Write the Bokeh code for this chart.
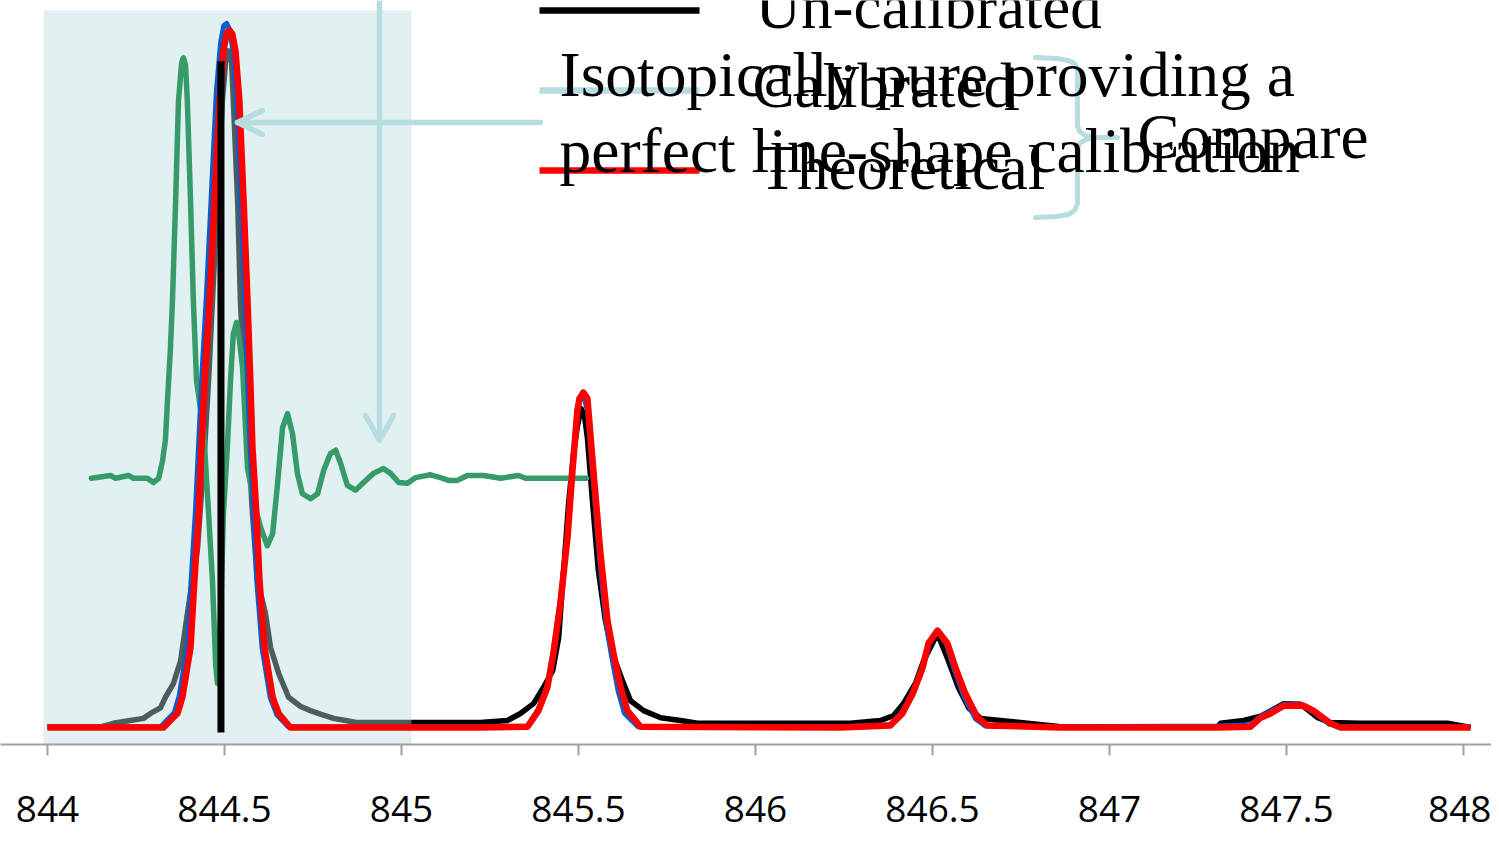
from bokeh.plotting import figure
from bokeh.models import Range1d, FixedTicker, CustomJSTickFormatter
from bokeh.core.properties import value
from bokeh.embed import file_html
from bokeh.resources import INLINE

# ---------------- data ----------------
tick_vals = [844, 844.5, 845, 845.5, 846, 846.5, 847, 847.5, 848]
tick_labels = ["844", "844.5", "845", "845.5", "846", "846.5", "847", "847.5", "848"]

# Un-calibrated spectrum (black)
uncal_x = [844.000, 844.150, 844.186, 844.234, 844.271, 844.291, 844.319, 844.333, 844.356, 844.376,
           844.395, 844.424, 844.444, 844.455, 844.466, 844.480, 844.494, 844.503, 844.511, 844.520,
           844.525, 844.537, 844.545, 844.556, 844.568, 844.579, 844.593, 844.616, 844.630, 844.653,
           844.681, 844.715, 844.743, 844.771, 844.808, 844.842, 844.876, 844.941,
           845.223, 845.299, 845.336, 845.373, 845.401, 845.427, 845.444, 845.458, 845.472, 845.486,
           845.497, 845.508, 845.517, 845.525, 845.540, 845.556, 845.576, 845.596, 845.624, 845.647,
           845.684, 845.732, 845.788, 845.836,
           846.268, 846.353, 846.390, 846.418, 846.452, 846.475, 846.514, 846.545, 846.573, 846.602,
           846.636, 846.692, 846.768, 846.862,
           847.305, 847.314, 847.379, 847.427, 847.492, 847.540, 847.588, 847.624, 847.709, 847.955, 848.020]
uncal_y = [0.1, 0.1, 0.6, 1.0, 1.3, 2.0, 2.8, 4.3, 6.3, 9.5,
           16.2, 25.6, 39.9, 49.4, 60.8, 75.1, 89.3, 94.7, 96.4, 94.7,
           89.3, 75.1, 60.8, 49.4, 39.9, 30.5, 20.9, 16.2, 11.4, 7.7,
           4.3, 3.0, 2.4, 1.9, 1.3, 1.0, 0.7, 0.7,
           0.7, 1.0, 2.0, 3.4, 5.7, 8.1, 12.8, 22.4, 31.9, 39.0,
           43.0, 45.4, 44.4, 41.3, 31.9, 22.4, 15.2, 10.5, 6.7, 3.8,
           2.4, 1.4, 1.0, 0.6,
           0.6, 1.0, 1.7, 3.4, 6.3, 9.5, 13.4, 9.5, 5.7, 2.8,
           1.3, 1.0, 0.6, 0.1,
           0.1, 0.6, 1.0, 1.6, 3.4, 3.3, 1.4, 0.7, 0.6, 0.6, 0.0]

# Calibrated spectrum (blue)
cal_x = [844.000, 844.320, 844.331, 844.358, 844.372, 844.395, 844.406, 844.418, 844.427, 844.436,
         844.449, 844.463, 844.477, 844.489, 844.498, 844.506, 844.514, 844.523, 844.534, 844.546,
         844.557, 844.565, 844.572, 844.582, 844.591, 844.606, 844.629, 844.648, 844.680,
         845.223, 845.356, 845.386, 845.411, 845.428, 845.448, 845.468, 845.482, 845.496, 845.512,
         845.526, 845.540, 845.559, 845.578, 845.594, 845.612, 845.630, 845.668,
         846.240, 846.381, 846.414, 846.443, 846.471, 846.488, 846.513, 846.540, 846.562, 846.589,
         846.622, 846.650, 846.862,
         847.305, 847.398, 847.427, 847.455, 847.492, 847.545, 847.574, 847.620, 847.653, 848.020]
cal_y = [0.1, 0.1, 0.7, 2.1, 4.5, 11.6, 21.2, 31.0, 40.5, 50.1,
         61.7, 76.2, 90.6, 97.6, 100.0, 100.3, 99.5, 96.8, 89.6, 75.4,
         61.0, 49.6, 40.1, 30.6, 21.0, 11.4, 4.3, 1.8, 0.1,
         0.1, 0.2, 2.6, 5.9, 10.7, 17.9, 27.3, 36.8, 45.3, 47.8,
         45.0, 36.2, 24.3, 14.8, 10.0, 5.2, 2.0, 0.1,
         0.1, 0.4, 2.2, 5.0, 8.6, 12.1, 13.8, 11.8, 8.2, 4.4,
         1.2, 0.2, 0.1,
         0.2, 0.4, 1.6, 2.3, 3.3, 3.2, 2.3, 0.5, 0.1, 0.1]

# Theoretical spectrum (red)
theo_x = [844.000, 844.328, 844.339, 844.367, 844.381, 844.404, 844.415, 844.427, 844.435, 844.444,
          844.458, 844.472, 844.486, 844.497, 844.506, 844.514, 844.522, 844.531, 844.542, 844.554,
          844.565, 844.573, 844.579, 844.590, 844.599, 844.613, 844.636, 844.653, 844.686,
          845.223, 845.356, 845.387, 845.412, 845.429, 845.449, 845.469, 845.483, 845.497, 845.503,
          845.514, 845.525, 845.528, 845.542, 845.562, 845.582, 845.599, 845.619, 845.638, 845.675,
          846.240, 846.381, 846.415, 846.444, 846.472, 846.489, 846.514, 846.542, 846.565, 846.593,
          846.627, 846.655, 846.862,
          847.305, 847.398, 847.427, 847.455, 847.492, 847.548, 847.576, 847.624, 847.653, 848.020]
theo_y = [0.0, 0.0, 0.6, 2.0, 4.3, 11.4, 20.9, 30.5, 39.9, 49.4,
          60.8, 75.1, 89.3, 96.4, 98.8, 99.3, 98.8, 96.4, 89.3, 75.1,
          60.8, 49.4, 39.9, 30.5, 20.9, 11.4, 4.3, 2.0, 0.0,
          0.0, 0.1, 2.4, 5.7, 10.5, 17.7, 27.1, 36.6, 45.2, 46.9,
          47.7, 46.9, 45.2, 36.6, 24.8, 15.2, 10.5, 5.7, 2.4, 0.1,
          0.0, 0.3, 2.0, 4.8, 8.5, 12.0, 13.8, 12.0, 8.5, 4.8,
          1.4, 0.3, 0.0,
          0.0, 0.1, 1.4, 2.0, 3.1, 3.1, 2.4, 0.6, 0.0, 0.0]

# Line-shape calibration (green), offset trace
shape_x = [844.124, 844.178, 844.192, 844.229, 844.243, 844.282, 844.299, 844.314, 844.325, 844.333,
           844.339, 844.347, 844.353, 844.362, 844.370, 844.379, 844.384, 844.390, 844.395, 844.404,
           844.412, 844.421, 844.441, 844.455, 844.466, 844.475, 844.480, 844.489, 844.497, 844.508,
           844.517, 844.525, 844.534, 844.540, 844.551, 844.565, 844.582, 844.602, 844.621, 844.636,
           844.650, 844.664, 844.678, 844.692, 844.706, 844.720, 844.743, 844.763, 844.780, 844.799,
           844.814, 844.828, 844.847, 844.870, 844.893, 844.921, 844.949, 844.969, 844.992, 845.017,
           845.040, 845.082, 845.110, 845.133, 845.158, 845.186, 845.232, 845.280, 845.331, 845.350,
           845.523]
shape_y = [35.5, 35.9, 35.5, 35.9, 35.5, 35.5, 34.9, 35.5, 38.0, 40.9,
           46.6, 53.7, 60.8, 75.1, 89.3, 94.7, 95.4, 94.3, 89.3, 75.1,
           60.8, 49.4, 42.3, 30.5, 20.9, 9.1, 6.3, 16.2, 30.5, 39.9,
           49.4, 56.1, 57.7, 56.1, 51.3, 37.0, 32.3, 28.5, 25.9, 27.6,
           34.8, 42.7, 44.7, 41.9, 36.2, 33.3, 32.6, 33.3, 36.6, 39.0,
           39.5, 37.6, 34.5, 33.8, 34.9, 36.2, 36.9, 36.2, 34.9, 34.8,
           35.6, 36.0, 35.6, 35.2, 35.2, 35.9, 35.9, 35.5, 35.9, 35.5,
           35.5]

# Isotopically pure reference line (stick)
stick_x = [844.49]
stick_y0 = [-0.7]
stick_y1 = [94.9]

legend_labels = ["Un-calibrated", "Calibrated", "Theoretical"]
note_lines = ["Isotopically pure providing a", "perfect line-shape calibration"]
compare_label = "Compare"

# ---------------- layout helpers (picture pixel -> data) ----------------
def dx(px):
    return 844 + (px - 47) / 354.0

def dy(py):
    return (727 - py) / 7.02

TEXT_SHIFT = 23  # rendered text sits this many px below the given anchor

def ty(py):
    return dy(py - TEXT_SHIFT)

LIGHT = "#b7dde0"
W, H = 1491, 835
FRAME_BOTTOM = 744

p = figure(width=W, height=H, output_backend="svg", toolbar_location=None,
           x_range=Range1d(dx(0), dx(W)), y_range=Range1d(dy(FRAME_BOTTOM), dy(0)),
           y_axis_location=None, min_border_left=0, min_border_right=0,
           min_border_top=0, min_border_bottom=H - FRAME_BOTTOM,
           background_fill_color="white", border_fill_color="white")
p.outline_line_color = None
p.xgrid.grid_line_color = None
p.ygrid.grid_line_color = None

ax = p.xaxis[0]
ax.ticker = FixedTicker(ticks=tick_vals)
ax.formatter = CustomJSTickFormatter(args=dict(labels=tick_labels), code="return labels[index];")
ax.axis_line_color = "#a0a0a0"
ax.axis_line_width = 2
ax.major_tick_line_color = "#a0a0a0"
ax.major_tick_line_width = 2
ax.major_tick_in = 0
ax.major_tick_out = 11
ax.minor_tick_in = 0
ax.minor_tick_out = 0
ax.major_label_text_font = "Open Sans"
ax.major_label_text_font_size = "37px"
ax.major_label_text_color = "black"
ax.major_label_standoff = 40

# un-calibrated first (shaded box greys it)
p.line(uncal_x, uncal_y, line_color="black", line_width=5.5, line_join="round")

# shaded region
p.quad(left=[dx(43)], right=[dx(411)], bottom=[dy(778)], top=[dy(10)],
       fill_color=LIGHT, fill_alpha=0.42, line_color=None)

p.line(shape_x, shape_y, line_color="#379b69", line_width=5.5, line_join="round", line_cap="round")
p.line(cal_x, cal_y, line_color="#0a5ccc", line_width=5, line_join="round")
p.line(theo_x, theo_y, line_color="#ff0000", line_width=6.5, line_join="round")
p.segment(x0=stick_x, y0=stick_y0, x1=stick_x, y1=stick_y1, line_color="black", line_width=7)

# arrows
p.multi_line(xs=[[dx(379), dx(379)], [dx(365), dx(379), dx(393)],
                 [dx(237), dx(540)], [dx(262), dx(237), dx(262)]],
             ys=[[dy(-5), dy(438)], [dy(415), dy(440), dy(415)],
                 [dy(122), dy(122)], [dy(110), dy(122), dy(134)]],
             line_color=LIGHT, line_width=5.5, line_cap="round", line_join="round")

# brace
brace_up = [(1035, 57), (1056, 58), (1068, 60), (1074, 63), (1077, 69), (1077, 125),
            (1079, 131), (1085, 135), (1096, 137), (1117, 137)]
brace_lo = [(1096, 137), (1085, 139), (1079, 143), (1077, 149), (1077, 203),
            (1074, 210), (1068, 214), (1056, 216), (1035, 217)]
p.multi_line(xs=[[dx(a) for a, b in brace_up], [dx(a) for a, b in brace_lo]],
             ys=[[dy(b) for a, b in brace_up], [dy(b) for a, b in brace_lo]],
             line_color=LIGHT, line_width=5, line_join="round", line_cap="round")

# legend samples
p.multi_line(xs=[[dx(539), dx(699)]] * 3,
             ys=[[dy(10), dy(10)], [dy(90), dy(90)], [dy(170), dy(170)]],
             line_color=["black", LIGHT, "#ff0000"], line_width=6.5)

serif = value("Liberation Serif")
p.text(x=[dx(755), dx(752), dx(758)], y=[ty(29), ty(108), ty(190)], text=legend_labels,
       text_font=serif, text_font_size="63px", text_color="black",
       text_align="left", text_baseline="alphabetic")
p.text(x=[dx(559), dx(559)], y=[ty(97), ty(173)], text=note_lines,
       text_font=serif, text_font_size="63.5px", text_color="black",
       text_align="left", text_baseline="alphabetic")
p.text(x=[dx(1137)], y=[ty(159)], text=[compare_label],
       text_font=serif, text_font_size="63px", text_color="black",
       text_align="left", text_baseline="alphabetic")

open("out.html", "w").write(file_html(p, INLINE))
